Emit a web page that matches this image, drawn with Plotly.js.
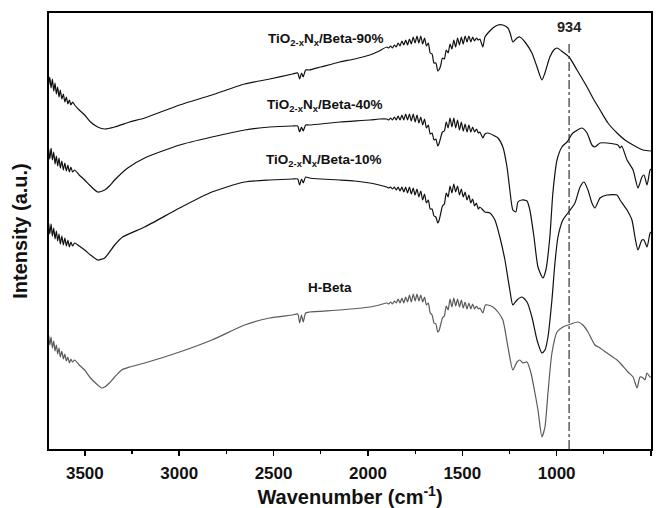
<!DOCTYPE html>
<html>
<head>
<meta charset="utf-8">
<script src="https://cdn.plot.ly/plotly-3.0.1.min.js"></script>
<style>html,body{margin:0;padding:0;background:#fff;}#chart{width:665px;height:508px;}</style>
</head>
<body>
<div id="chart"></div>
<script>
// Wavenumber (cm-1) and intensity (a.u.)
const wn90 = [3692,3686,3679,3672,3665,3658,3651,3644,3637,3630,3622,3614,3606,3598,3590,3582,3574,3565,3554,3530,3501,3470,3432,3395,3342,3262,3183,2998,2827,2653,2520,2400,2372,2362,2352,2343,2330,2310,2250,2149,2070,1990,1940,
 1900,1890,1880,1870,1860,1850,1840,1830,1820,1810,1800,1790,1780,1770,1760,1750,1740,1730,1720,1710,1700,1690,1680,1670,1660,1650,1640,1630,1624,1615,1605,1595,1585,1575,1565,1555,1545,1535,1525,1515,1505,1495,1485,1475,1465,1455,1445,1435,1425,1415,1407,
 1391,1380,1364,1338,1311,1285,1258,1245,1232,1210,1195,1168,1131,1104,1078,1062,1036,1015,998,967,934,892,839,808,770,728,680,638,595,542,500];
const int90 = [364,372,361,370,358,366,355,362,352,359,350,355,347,352,345,349,344,347,344,339,334,327,322,320,322,327,331,344,354,365,370,375,376,370,376,372,379,379,382,387,390,394,398,
 402,401,403,401,404,402,406,403,408,404,409,404,410,405,412,406,413,406,413,405,411,403,406,396,395,386,386,378,379,383,391,390,399,396,405,400,409,402,411,404,412,405,413,407,413,407,412,408,411,409,410,
 402,412,416,421,424,424,421,415,407,411,412,407,396,382,369,376,392,399,401,397,392,379,362,351,339,326,316,309,304,299,298];

const wn40 = [3692,3686,3679,3672,3665,3658,3651,3644,3637,3630,3622,3614,3606,3598,3590,3582,3574,3565,3554,3530,3501,3470,3432,3395,3370,3342,3273,3183,2998,2827,2653,2520,2400,2372,2362,2352,2343,2330,2310,2149,1990,1940,
 1900,1890,1880,1870,1860,1850,1840,1830,1820,1810,1800,1790,1780,1770,1760,1750,1740,1730,1720,1710,1700,1690,1680,1670,1660,1650,1640,1630,1624,1615,1605,1595,1585,1575,1565,1555,1545,1535,1525,1515,1505,1495,1485,1475,1465,1455,1445,1435,1425,1415,1407,
 1391,1380,1364,1338,1311,1285,1263,1248,1232,1216,1205,1184,1157,1142,1120,1099,1073,1057,1036,1020,998,972,945,914,866,839,813,797,770,733,675,664,655,627,595,569,548,537,521,505,500];
const int40 = [300,290,301,289,297,285,293,283,291,281,288,279,286,278,284,277,282,277,279,274,269,263,257,259,263,269,281,291,304,312,319,322,323,323,317,322,318,324,324,327,329,330,
 330,329,331,329,332,329,333,329,334,329,335,329,335,328,335,327,334,326,332,324,330,321,324,315,316,309,310,303,305,311,317,318,327,321,331,322,331,321,329,319,327,318,325,317,324,317,322,317,320,316,317,
 311,315,316,314,311,302,282,259,239,237,247,249,248,239,212,182,171,179,212,256,289,302,307,316,321,316,304,302,306,306,304,301,303,289,279,261,272,274,264,279,280];

const wn10 = [3692,3686,3679,3672,3665,3658,3651,3644,3637,3630,3622,3614,3606,3598,3590,3582,3574,3565,3554,3530,3501,3470,3432,3395,3342,3300,3183,2998,2827,2653,2520,2400,2372,2362,2352,2343,2330,2310,2250,2149,2070,1990,1940,
 1900,1890,1880,1870,1860,1850,1840,1830,1820,1810,1800,1790,1780,1770,1760,1750,1740,1730,1720,1710,1700,1690,1680,1670,1660,1650,1640,1630,1624,1615,1605,1595,1585,1575,1565,1555,1545,1535,1525,1515,1505,1495,1485,1475,1465,1455,1445,1435,1425,1415,1407,
 1380,1354,1327,1301,1274,1248,1232,1210,1184,1157,1131,1104,1078,1062,1046,1025,1009,993,967,940,903,876,855,834,813,797,770,733,680,664,627,601,585,569,548,537,521,505,500];
const int10 = [226,215,225,213,221,210,218,208,215,205,213,204,211,203,209,202,207,203,206,203,199,194,189,191,204,212,222,241,257,267,269,270,270,264,270,266,272,271,270,269,268,266,264,
 262,261,262,260,262,259,262,258,262,257,262,256,262,255,261,254,260,252,258,249,255,246,249,240,240,233,232,226,228,235,243,245,256,252,263,256,265,257,263,254,260,252,257,249,254,246,250,243,246,240,242,
 237,236,229,212,189,159,144,149,152,147,132,109,96,99,112,149,186,212,229,236,246,262,267,259,246,241,251,254,254,249,239,229,212,199,209,209,202,216,217];

const wnH = [3692,3686,3679,3672,3665,3658,3651,3644,3637,3630,3622,3614,3606,3598,3590,3582,3574,3565,3554,3530,3501,3470,3432,3411,3395,3370,3342,3305,3262,3183,2998,2827,2653,2520,2400,2372,2362,2352,2343,2330,2310,2149,1990,1940,
 1900,1890,1880,1870,1860,1850,1840,1830,1820,1810,1800,1790,1780,1770,1760,1750,1740,1730,1720,1710,1700,1690,1680,1670,1660,1650,1640,1630,1624,1615,1605,1595,1585,1575,1565,1555,1545,1535,1525,1515,1505,1495,1485,1475,1465,1455,1445,1435,1425,1415,1407,
 1391,1378,1364,1338,1311,1285,1258,1232,1210,1195,1179,1157,1136,1115,1099,1078,1062,1046,1025,998,967,940,887,861,834,797,770,733,680,664,622,595,574,558,542,532,521,505,500];
const intH = [114,104,112,101,108,98,104,95,101,92,98,90,95,88,92,86,90,87,89,84,79,71,64,61,62,66,72,79,82,86,97,109,124,131,134,135,126,134,127,136,137,139,142,144,
 146,145,147,145,148,146,150,146,151,146,152,147,154,147,155,148,155,148,154,147,152,144,146,136,134,126,125,117,118,124,131,133,143,139,150,142,151,143,150,142,149,141,147,140,146,140,145,140,143,140,141,
 136,144,144,142,137,129,102,79,87,89,86,87,76,56,39,12,22,56,96,117,122,124,127,124,117,104,101,96,89,86,77,72,61,72,71,69,76,72,72];

const seriesNames = ['TiO<sub>2-x</sub>N<sub>x</sub>/Beta-90%','TiO<sub>2-x</sub>N<sub>x</sub>/Beta-40%','TiO<sub>2-x</sub>N<sub>x</sub>/Beta-10%','H-Beta'];
const labelWn = [2225, 2228, 2238, 2202];
const labelInt = [410, 344, 289, 162];
const markWn = 934;
const xTickVals = [3500,3000,2500,2000,1500,1000,500];

const F = 'Liberation Sans, Arial, sans-serif';
function tr(x, y, c) {
  return {x: x, y: y, type: 'scatter', mode: 'lines', line: {color: c, width: 1.2, shape: 'spline', smoothing: 0.6}, hoverinfo: 'skip', showlegend: false};
}
const data = [tr(wn90, int90, '#111'), tr(wn40, int40, '#111'), tr(wn10, int10, '#111'), tr(wnH, intH, '#5a5a5a')];

const annotations = seriesNames.map((n, i) => ({x: labelWn[i], y: labelInt[i], xref: 'x', yref: 'y', text: '<b>' + n + '</b>', showarrow: false, font: {family: F, size: 13.5, color: '#111'}}));
annotations.push({x: markWn, y: 422, xref: 'x', yref: 'y', text: '<b>' + markWn + '</b>', showarrow: false, font: {family: F, size: 14.5, color: '#222'}});

const layout = {
  width: 665, height: 508,
  margin: {l: 49, r: 14, t: 13, b: 59},
  paper_bgcolor: '#fff', plot_bgcolor: '#fff',
  showlegend: false,
  xaxis: {
    range: [3690, 500], tickvals: xTickVals, ticktext: xTickVals.map(String),
    ticks: 'outside', ticklen: 5, tickwidth: 1.5, tickcolor: '#000',
    minor: {ticks: 'outside', ticklen: 3, tickwidth: 1.2, tickcolor: '#000', dtick: 250, tick0: 500},
    showline: true, linecolor: '#000', linewidth: 2, mirror: true,
    showgrid: false, zeroline: false,
    tickfont: {family: F, size: 17, color: '#111', weight: 'bold'},
    ticklabelstandoff: 3,
    title: {text: '<b>Wavenumber (cm<sup>-1</sup>)</b>', font: {family: F, size: 20, color: '#111'}, standoff: 5}
  },
  yaxis: {
    range: [0, 436], showticklabels: false, ticks: '',
    showline: true, linecolor: '#000', linewidth: 2, mirror: true,
    showgrid: false, zeroline: false,
    title: {text: '<b>Intensity (a.u.)</b>', font: {family: F, size: 20, color: '#111'}, standoff: 14}
  },
  shapes: [{type: 'line', xref: 'x', yref: 'y', x0: markWn, x1: markWn, y0: 0, y1: 407, line: {color: '#333', width: 1.2, dash: 'dashdot'}}],
  annotations: annotations
};
Plotly.newPlot('chart', data, layout, {staticPlot: true, displayModeBar: false});
</script>
</body>
</html>
